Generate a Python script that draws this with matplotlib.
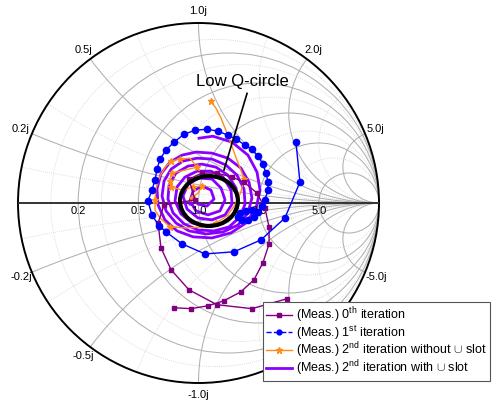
import numpy as np
import matplotlib
matplotlib.use("Agg")
import matplotlib.pyplot as plt
from matplotlib.patches import Circle, Ellipse
from matplotlib.lines import Line2D

plt.rcParams['font.family'] = ['Liberation Sans', 'DejaVu Sans']
plt.rcParams['mathtext.fontset'] = 'custom'
plt.rcParams['mathtext.rm'] = 'Liberation Sans'

iter0_re = [0.490, 0.296, 0.102, -0.053, -0.152, -0.208, -0.224, -0.191, -0.019, -0.053,
            0.019, 0.102, 0.186, 0.252, 0.324, 0.368, 0.391, 0.391, 0.357, 0.307,
            0.235, 0.141, 0.053, -0.042, -0.136]
iter0_im = [-0.532, -0.587, -0.565, -0.482, -0.371, -0.249, -0.111, -0.011, 0.017, 0.133,
            0.166, 0.166, 0.144, 0.116, 0.055, -0.028, -0.133, -0.227, -0.332, -0.427,
            -0.493, -0.543, -0.571, -0.587, -0.582]

iter1_re = [0.296, 0.263, 0.230, 0.219, 0.241, 0.274, 0.307, 0.330, 0.352, 0.368,
            0.385, 0.385, 0.374, 0.357, 0.330, 0.296, 0.258, 0.208, 0.163, 0.108,
            0.047, -0.019, -0.080, -0.136, -0.180, -0.213, -0.230, -0.241, -0.258, -0.280,
            -0.258, -0.219, -0.180, -0.091, 0.036, 0.197, 0.346, 0.479, 0.562, 0.540]
iter1_im = [-0.039, -0.044, -0.055, -0.078, -0.094, -0.094, -0.078, -0.050, -0.017, 0.017,
            0.072, 0.116, 0.166, 0.216, 0.260, 0.299, 0.321, 0.355, 0.377, 0.399,
            0.410, 0.404, 0.382, 0.338, 0.294, 0.244, 0.188, 0.127, 0.072, 0.011,
            -0.066, -0.127, -0.161, -0.227, -0.283, -0.271, -0.205, -0.083, 0.116, 0.338]

iter2a_re = [0.069, 0.097, 0.125, 0.147, 0.169, 0.191, 0.213, 0.235, 0.252, 0.235,
             0.202, 0.158, 0.097, 0.019, -0.064, -0.158, -0.213, -0.241, -0.241, -0.235,
             -0.213, -0.180, -0.152, -0.102, -0.047, -0.008, -0.075, -0.147, -0.158, -0.152,
             -0.091, -0.030, 0.019, -0.003, -0.036]
iter2a_im = [0.565, 0.526, 0.471, 0.416, 0.360, 0.299, 0.238, 0.183, 0.133, 0.061,
             -0.011, -0.072, -0.111, -0.133, -0.139, -0.133, -0.083, -0.039, 0.017, 0.083,
             0.150, 0.205, 0.233, 0.244, 0.249, 0.199, 0.183, 0.166, 0.122, 0.089,
             0.072, 0.089, 0.094, 0.055, 0.028]
iter2a_marks = [0, 8, 12, 15, 18, 22, 23, 25, 27, 28, 29, 31, 32, 34]

iter2b_re = [0.003, 0.080, 0.186, 0.274, 0.324, 0.341, 0.319, 0.263, 0.180, 0.075,
             -0.030, -0.119, -0.186, -0.224, -0.230, -0.208, -0.158, -0.091, -0.014,
             0.075, 0.163, 0.235, 0.280, 0.296, 0.274, 0.219, 0.136, 0.042, -0.053,
             -0.125, -0.180, -0.202, -0.191, -0.152, -0.086, -0.008,
             0.075, 0.152, 0.213, 0.252, 0.258, 0.230, 0.169, 0.086, -0.003, -0.080,
             -0.141, -0.169, -0.163, -0.125, -0.058, 0.019,
             0.097, 0.163, 0.208, 0.219, 0.191, 0.130, 0.047, -0.036, -0.097, -0.130,
             -0.119, -0.075, -0.008, 0.069,
             0.136, 0.180, 0.186, 0.147, 0.075, -0.003, -0.064, -0.086, -0.058, 0.003, 0.075,
             0.125, 0.147, 0.119, 0.053, -0.014, -0.047, -0.030, 0.019, 0.069,
             0.086, 0.047, -0.003, -0.025, -0.042, -0.047]
iter2b_im = [0.360, 0.371, 0.338, 0.266, 0.172, 0.072, -0.028, -0.111, -0.166, -0.194,
             -0.188, -0.155, -0.094, -0.011, 0.078, 0.161, 0.227, 0.266, 0.283,
             0.277, 0.249, 0.194, 0.116, 0.028, -0.055, -0.122, -0.161, -0.172, -0.155,
             -0.111, -0.044, 0.039, 0.122, 0.188, 0.233, 0.249,
             0.244, 0.211, 0.155, 0.078, -0.006, -0.078, -0.133, -0.155, -0.150, -0.116,
             -0.055, 0.022, 0.100, 0.166, 0.205, 0.216,
             0.199, 0.155, 0.083, 0.006, -0.066, -0.111, -0.127, -0.111, -0.061, 0.011,
             0.089, 0.144, 0.177, 0.177,
             0.144, 0.072, -0.006, -0.066, -0.094, -0.083, -0.033, 0.039, 0.105, 0.139, 0.133,
             0.083, 0.017, -0.044, -0.066, -0.044, 0.011, 0.066, 0.094, 0.072,
             0.022, -0.017, -0.006, 0.033, 0.017, -0.006]

r_major = [0.2, 0.5, 1.0, 2.0, 5.0]
x_major = [0.2, 0.5, 1.0, 2.0, 5.0]
r_minor = [0.1, 0.3, 0.7, 1.5, 3.0]
x_minor = [0.1, 0.3, 0.7, 1.5, 3.0]

labels = ["(Meas.) 0$^{\\rm th}$ iteration",
          "(Meas.) 1$^{\\rm st}$ iteration",
          "(Meas.) 2$^{\\rm nd}$ iteration without $\\cup$ slot",
          "(Meas.) 2$^{\\rm nd}$ iteration with $\\cup$ slot"]
colors = ['#800080', '#0000ff', '#ff8c1a', '#8a00ff']

fig = plt.figure(figsize=(4.99, 4.01), dpi=100)
ax = fig.add_axes([18 / 499, 18 / 401, 361 / 499, 360 / 401])
ax.set_xlim(-1, 1)
ax.set_ylim(-1, 1)
ax.axis('off')

unit = Circle((0, 0), 1, transform=ax.transData, facecolor='none', edgecolor='none')
ax.add_patch(unit)


def grid_circle(cx, cy, rad, **kw):
    c = Circle((cx, cy), rad, fill=False, zorder=0.5, **kw)
    ax.add_patch(c)
    c.set_clip_path(unit)


minor_kw = dict(color='#d2d2d2', lw=0.6, ls=(0, (1, 1.5)))
major_kw = dict(color='#b0b0b0', lw=0.75)
for r in r_minor:
    grid_circle(r / (1 + r), 0, 1 / (1 + r), **minor_kw)
for x in x_minor:
    grid_circle(1, 1 / x, 1 / x, **minor_kw)
    grid_circle(1, -1 / x, 1 / x, **minor_kw)
for r in r_major:
    grid_circle(r / (1 + r), 0, 1 / (1 + r), **major_kw)
for x in x_major:
    grid_circle(1, 1 / x, 1 / x, **major_kw)
    grid_circle(1, -1 / x, 1 / x, **major_kw)

ax.add_patch(Circle((0, 0), 1, fill=False, color='black', lw=1.4, clip_on=False))
ax.plot([-1, 1], [0, 0], color='#333333', lw=1.4, zorder=1)

for r in r_major:
    ax.text((r - 1) / (r + 1), -0.045, f'{r:.1f}', ha='center', va='center', fontsize=8)
for x in x_major:
    for s in (1, -1):
        if s * x == -2.0:
            continue  # sits under the legend
        ang = s * (np.pi - 2 * np.arctan(x))
        ax.text(1.065 * np.cos(ang), 1.065 * np.sin(ang), f'{s * x:.1f}j',
                ha='center', va='center', fontsize=8)

ax.plot(iter2b_re, iter2b_im, color=colors[3], lw=2, solid_joinstyle='round', zorder=2)
ax.plot(iter2a_re, iter2a_im, color=colors[2], lw=1, marker='*', ms=4.5,
        markevery=iter2a_marks, zorder=3)
ax.plot(iter0_re, iter0_im, color=colors[0], lw=1, marker='s', ms=3.5, zorder=3)
ax.plot(iter1_re, iter1_im, color=colors[1], lw=1, marker='o', ms=4.5, zorder=4)

# low Q circle + callout
ax.add_patch(Ellipse((0.058, 0.011), 0.321, 0.277, fill=False, color='black', lw=3, zorder=6))
ax.plot([0.269, 0.141], [0.609, 0.183], color='black', lw=1.2, zorder=6)
ax.text(0.242, 0.676, 'Low Q-circle', ha='center', va='center', fontsize=12)

handles = [Line2D([], [], color=colors[0], lw=1, marker='s', ms=3.5),
           Line2D([], [], color=colors[1], lw=1, ls='--', marker='o', ms=3.5),
           Line2D([], [], color=colors[2], lw=1, marker='*', ms=4.5),
           Line2D([], [], color=colors[3], lw=2)]
leg = fig.legend(handles, labels, loc='lower right', bbox_to_anchor=(490 / 499, 20 / 401),
                 fontsize=9, frameon=True, fancybox=False, framealpha=1,
                 edgecolor='#555555', handlelength=2.1, handletextpad=0.3,
                 labelspacing=-0.12, borderpad=0.25, borderaxespad=0)
leg.get_frame().set_linewidth(0.8)

fig.savefig('out.png', dpi=100)
